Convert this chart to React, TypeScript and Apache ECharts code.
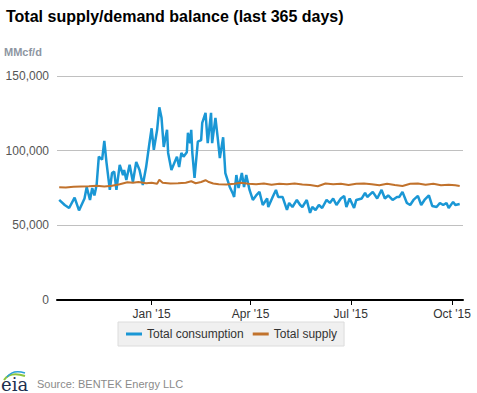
import React, { useEffect, useRef } from "react";
import * as echarts from "echarts";

const consumptionDates = [
  "2014-10-09", "2014-10-14", "2014-10-18", "2014-10-23", "2014-10-27", "2014-11-01", "2014-11-03", "2014-11-06",
  "2014-11-08", "2014-11-10", "2014-11-12", "2014-11-14", "2014-11-17", "2014-11-19", "2014-11-21", "2014-11-24",
  "2014-11-26", "2014-11-28", "2014-11-30", "2014-12-03", "2014-12-06", "2014-12-07", "2014-12-09", "2014-12-12",
  "2014-12-15", "2014-12-18", "2014-12-21", "2014-12-24", "2014-12-27", "2014-12-30", "2015-01-01", "2015-01-03",
  "2015-01-06", "2015-01-08", "2015-01-10", "2015-01-12", "2015-01-15", "2015-01-16", "2015-01-19", "2015-01-24",
  "2015-01-26", "2015-01-28", "2015-01-30", "2015-02-02", "2015-02-03", "2015-02-05", "2015-02-06", "2015-02-07",
  "2015-02-09", "2015-02-12", "2015-02-15", "2015-02-16", "2015-02-19", "2015-02-21", "2015-02-24", "2015-02-25",
  "2015-02-28", "2015-03-02", "2015-03-04", "2015-03-07", "2015-03-09", "2015-03-13", "2015-03-16", "2015-03-17",
  "2015-03-19", "2015-03-21", "2015-03-24", "2015-03-26", "2015-03-28", "2015-03-31", "2015-04-03", "2015-04-06",
  "2015-04-09", "2015-04-12", "2015-04-16", "2015-04-17", "2015-04-21", "2015-04-24", "2015-04-26", "2015-04-30",
  "2015-05-04", "2015-05-06", "2015-05-09", "2015-05-13", "2015-05-16", "2015-05-18", "2015-05-22", "2015-05-25",
  "2015-05-27", "2015-05-30", "2015-06-02", "2015-06-05", "2015-06-09", "2015-06-12", "2015-06-15", "2015-06-18",
  "2015-06-22", "2015-06-25", "2015-06-27", "2015-06-30", "2015-07-04", "2015-07-06", "2015-07-11", "2015-07-14",
  "2015-07-16", "2015-07-21", "2015-07-25", "2015-07-29", "2015-08-01", "2015-08-04", "2015-08-08", "2015-08-12",
  "2015-08-14", "2015-08-17", "2015-08-21", "2015-08-24", "2015-08-27", "2015-08-31", "2015-09-03", "2015-09-06",
  "2015-09-10", "2015-09-13", "2015-09-17", "2015-09-20", "2015-09-23", "2015-09-26", "2015-09-28", "2015-10-02",
  "2015-10-04", "2015-10-08",
];

const consumptionValues = [
  67000, 63600, 61600, 68500, 60000, 68000, 75700, 67000,
  75000, 70000, 77000, 96000, 94000, 106500, 92000, 73700,
  85000, 86000, 73700, 90500, 83700, 87000, 80400, 90500,
  79000, 92500, 87000, 77000, 89000, 105000, 115000, 100500,
  114000, 129000, 122000, 102500, 114000, 98500, 87000, 96000,
  89000, 98500, 96000, 99000, 112000, 105000, 114000, 98500,
  81700, 106000, 107000, 118600, 125300, 105000, 125300, 105000,
  122000, 109000, 95000, 109000, 85000, 75700, 71000, 69000,
  83700, 75000, 85000, 75700, 83700, 73700, 67000, 70000,
  72400, 63600, 68000, 62300, 69000, 73700, 69000, 69000,
  60300, 65000, 62300, 67000, 63600, 62300, 67000, 58300,
  62300, 60300, 63600, 61600, 67000, 65000, 68000, 63600,
  68000, 69700, 62300, 68000, 61600, 67000, 68000, 71700,
  69000, 72400, 68000, 73700, 68000, 70000, 67000, 69000,
  69000, 72400, 65000, 63600, 67000, 69700, 63600, 67000,
  70000, 63000, 62300, 65000, 63600, 65000, 61600, 65700,
  63600, 64300,
];

const supplyDates = [
  "2014-10-09", "2014-10-15", "2014-10-22", "2014-10-29", "2014-11-05", "2014-11-12", "2014-11-19", "2014-11-26",
  "2014-12-03", "2014-12-10", "2014-12-15", "2014-12-20", "2014-12-27", "2015-01-01", "2015-01-06", "2015-01-08",
  "2015-01-11", "2015-01-18", "2015-01-25", "2015-02-01", "2015-02-06", "2015-02-10", "2015-02-15", "2015-02-19",
  "2015-02-22", "2015-02-26", "2015-03-03", "2015-03-10", "2015-03-17", "2015-03-23", "2015-03-30", "2015-04-06",
  "2015-04-13", "2015-04-20", "2015-04-27", "2015-05-04", "2015-05-11", "2015-05-18", "2015-05-25", "2015-06-01",
  "2015-06-08", "2015-06-15", "2015-06-22", "2015-06-29", "2015-07-06", "2015-07-13", "2015-07-20", "2015-07-27",
  "2015-08-03", "2015-08-10", "2015-08-17", "2015-08-24", "2015-08-31", "2015-09-07", "2015-09-14", "2015-09-21",
  "2015-09-28", "2015-10-04", "2015-10-08",
];

const supplyValues = [
  75500, 75300, 75800, 76000, 76200, 76500, 76000, 76500,
  77500, 78800, 78500, 79000, 78200, 78500, 77800, 80500,
  78500, 78000, 78200, 78500, 79500, 78200, 79000, 80200,
  79000, 78000, 77500, 77300, 77800, 78500, 77800, 77500,
  78000, 77200, 77800, 77500, 78000, 77300, 77000, 76200,
  78000, 77500, 77800, 77000, 77800, 78000, 77500, 76800,
  77800, 77000, 76300, 77800, 78000, 77200, 77800, 76800,
  77200, 76800, 76300,
];

const tickDates = ["2015-01-01", "2015-04-01", "2015-07-01", "2015-10-01"];
const tickLabels = ["Jan '15", "Apr '15", "Jul '15", "Oct '15"];
const xRange = ["2014-10-07", "2015-10-11"];
const seriesNames = ["Total consumption", "Total supply"];

const ts = (s: string) => {
  const [y, m, d] = s.split("-").map(Number);
  return Date.UTC(y, m - 1, d);
};

const FONT = "'Liberation Sans', Arial, sans-serif";

export default function App() {
  const ref = useRef<HTMLDivElement>(null);

  useEffect(() => {
    if (!ref.current) return;
    const chart = echarts.init(ref.current, null, { renderer: "svg" });
    const tickTs = tickDates.map(ts);
    const labelFor = (v: number) => {
      const i = tickTs.indexOf(v);
      return i >= 0 ? tickLabels[i] : "";
    };
    chart.setOption({
      animation: false,
      backgroundColor: "#ffffff",
      textStyle: { fontFamily: FONT },
      title: {
        text: "Total supply/demand balance (last 365 days)",
        left: 1,
        top: 3,
        textStyle: { fontSize: 16, fontWeight: "bold", color: "#000000", fontFamily: FONT },
      },
      grid: { left: 57, right: 14, top: 76, bottom: 93 },
      legend: {
        left: 118,
        top: 322,
        data: seriesNames,
        icon: "rect",
        itemWidth: 16,
        itemHeight: 3,
        itemGap: 9,
        padding: [6, 7, 6, 8],
        backgroundColor: "#f0f0f0",
        borderColor: "#dcdcdc",
        borderWidth: 1,
        textStyle: { fontSize: 12, color: "#333333", fontFamily: FONT },
      },
      xAxis: {
        type: "value",
        min: ts(xRange[0]),
        max: ts(xRange[1]),
        axisLine: { show: true, lineStyle: { color: "#000000", width: 2 } },
        axisTick: {
          show: true,
          customValues: tickTs,
          length: 5,
          lineStyle: { color: "#000000", width: 1 },
        },
        axisLabel: {
          customValues: tickTs,
          formatter: (v: number) => labelFor(v),
          color: "#333333",
          fontSize: 12,
          margin: 8,
          fontFamily: FONT,
        },
        splitLine: { show: false },
      },
      yAxis: {
        type: "value",
        min: 0,
        max: 150000,
        interval: 50000,
        axisLine: { show: false },
        axisTick: { show: false },
        axisLabel: {
          color: "#555555",
          fontSize: 12,
          margin: 8,
          fontFamily: FONT,
          formatter: (v: number) => v.toLocaleString("en-US"),
        },
        splitLine: { lineStyle: { color: "#c0c0c0", width: 1 } },
      },
      series: [
        {
          name: seriesNames[0],
          type: "line",
          showSymbol: false,
          data: consumptionDates.map((d, i) => [ts(d), consumptionValues[i]]),
          lineStyle: { color: "#1a97d5", width: 2.5 },
          itemStyle: { color: "#1a97d5" },
        },
        {
          name: seriesNames[1],
          type: "line",
          showSymbol: false,
          data: supplyDates.map((d, i) => [ts(d), supplyValues[i]]),
          lineStyle: { color: "#c1722c", width: 2 },
          itemStyle: { color: "#c1722c" },
        },
      ],
      graphic: [
        {
          type: "text",
          left: 4,
          top: 46,
          style: { text: "MMcf/d", font: `bold 11px ${FONT}`, fill: "#8e96a2" },
        },
        {
          type: "text",
          left: 37,
          top: 378,
          style: { text: "Source: BENTEK Energy LLC", font: `11px ${FONT}`, fill: "#8a8a8a" },
        },
        {
          type: "text",
          left: 1,
          top: 375,
          style: { text: "eia", font: `18px 'DejaVu Serif', serif`, fill: "#1d2f4f" },
        },
        {
          type: "bezierCurve",
          shape: { x1: 4, y1: 380, cpx1: 10, cpy1: 371, x2: 25, y2: 376 },
          style: { stroke: "#8cc63f", lineWidth: 2, fill: "none" },
        },
        {
          type: "bezierCurve",
          shape: { x1: 7, y1: 377, cpx1: 13, cpy1: 369, x2: 25, y2: 373 },
          style: { stroke: "#2a9fd8", lineWidth: 1.5, fill: "none" },
        },
      ],
    });
    return () => chart.dispose();
  }, []);

  return (
    <div
      ref={ref}
      style={{ position: "fixed", left: 0, top: 0, width: 477, height: 393, background: "#fff" }}
    />
  );
}
